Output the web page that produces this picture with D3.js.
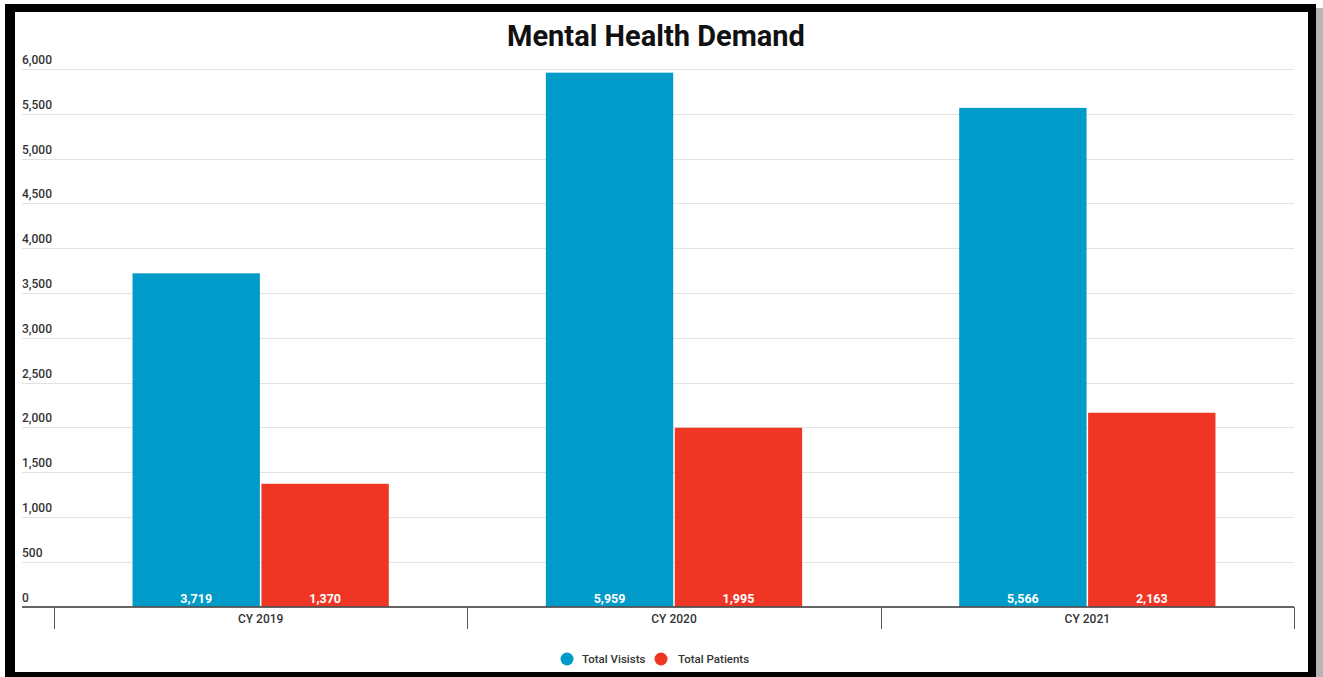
<!DOCTYPE html>
<html>
<head>
<meta charset="utf-8">
<script src="https://cdn.jsdelivr.net/npm/d3@7"></script>
<style>
  html, body { margin: 0; padding: 0; background: #ffffff; }
  svg { display: block; font-family: Roboto, "Noto Sans", sans-serif; }
</style>
</head>
<body>
<svg id="chart" width="1323" height="677"></svg>
<script>
// Chart data
const categories = ["CY 2019", "CY 2020", "CY 2021"];
const seriesNames = ["Total Visists", "Total Patients"];
const totalVisits = [3719, 5959, 5566];
const totalPatients = [1370, 1995, 2163];
const yTicks = [0, 500, 1000, 1500, 2000, 2500, 3000, 3500, 4000, 4500, 5000, 5500, 6000];
const seriesColors = ["#009BC8", "#EF3524"];

const svg = d3.select("#chart");

// Frame: drop shadow, black border, white panel
svg.append("rect").attr("x", 1316).attr("y", 8).attr("width", 7).attr("height", 669).attr("fill", "#b5b5b5");
svg.append("rect").attr("x", 5).attr("y", 4).attr("width", 1311).attr("height", 673).attr("fill", "#000");
svg.append("rect").attr("x", 15).attr("y", 12).attr("width", 1293).attr("height", 660).attr("fill", "#fff");

const plotLeft = 22, plotRight = 1294;
const bandLeft = 54, bandRight = 1294;

const y = d3.scaleLinear().domain([0, 6000]).range([606.5, 69]);
const x0 = d3.scaleBand().domain(categories).range([bandLeft, bandRight]).padding(0);
const bw = x0.bandwidth();
const x1 = d3.scaleBand().domain(seriesNames).range([0.19 * bw, 0.81 * bw]).paddingInner(0.012).paddingOuter(0);

// Title
svg.append("text")
  .attr("x", 656).attr("y", 46)
  .attr("text-anchor", "middle")
  .attr("font-size", 29).attr("font-weight", 700).attr("fill", "#111")
  .text("Mental Health Demand");

// Gridlines and y labels
const grid = svg.append("g");
grid.selectAll("line").data(yTicks.filter(d => d > 0)).join("line")
  .attr("x1", plotLeft).attr("x2", plotRight)
  .attr("y1", d => Math.round(y(d)) + 0.5).attr("y2", d => Math.round(y(d)) + 0.5)
  .attr("stroke", "#e2e2e2").attr("stroke-width", 1);
grid.selectAll("text").data(yTicks).join("text")
  .attr("x", plotLeft).attr("y", d => y(d) - 5)
  .attr("font-size", 12).attr("font-weight", 500).attr("fill", "#333")
  .text(d => d3.format(",")(d));

// Bars
const rows = categories.map((c, i) => ({ cat: c, vals: [totalVisits[i], totalPatients[i]] }));
const groups = svg.append("g").selectAll("g").data(rows).join("g")
  .attr("transform", d => `translate(${x0(d.cat)},0)`);

groups.selectAll("rect").data(d => d.vals.map((v, j) => ({ v, s: seriesNames[j], j }))).join("rect")
  .attr("x", d => x1(d.s)).attr("width", x1.bandwidth())
  .attr("y", d => y(d.v)).attr("height", d => y(0) - y(d.v))
  .attr("fill", d => seriesColors[d.j]);

groups.selectAll("text").data(d => d.vals.map((v, j) => ({ v, s: seriesNames[j], j }))).join("text")
  .attr("x", d => x1(d.s) + x1.bandwidth() / 2).attr("y", 603)
  .attr("text-anchor", "middle")
  .attr("font-size", 12.5).attr("font-weight", 700).attr("fill", "#fff")
  .text(d => d3.format(",")(d.v));

// X axis
const xAxisG = svg.append("g");
xAxisG.append("line")
  .attr("x1", plotLeft).attr("x2", plotRight)
  .attr("y1", 607).attr("y2", 607)
  .attr("stroke", "#333").attr("stroke-width", 1.5);
const tickPos = categories.map(c => x0(c)).concat([x0(categories[categories.length - 1]) + bw]);
xAxisG.selectAll("line.tick").data(tickPos).join("line")
  .attr("class", "tick")
  .attr("x1", d => Math.round(d) + 0.5).attr("x2", d => Math.round(d) + 0.5)
  .attr("y1", 607).attr("y2", 629)
  .attr("stroke", "#555").attr("stroke-width", 1);
xAxisG.selectAll("text").data(categories).join("text")
  .attr("x", d => x0(d) + bw / 2).attr("y", 623)
  .attr("text-anchor", "middle")
  .attr("font-size", 12).attr("font-weight", 500).attr("fill", "#333")
  .text(d => d);

// Legend
const legendItems = [
  { name: seriesNames[0], color: seriesColors[0], cx: 567, tx: 582 },
  { name: seriesNames[1], color: seriesColors[1], cx: 661, tx: 678 }
];
const legend = svg.append("g");
legend.selectAll("circle").data(legendItems).join("circle")
  .attr("cx", d => d.cx).attr("cy", 659).attr("r", 6.5)
  .attr("fill", d => d.color);
legend.selectAll("text").data(legendItems).join("text")
  .attr("x", d => d.tx).attr("y", 663)
  .attr("font-size", 11.5).attr("font-weight", 500).attr("fill", "#333")
  .text(d => d.name);
</script>
</body>
</html>
